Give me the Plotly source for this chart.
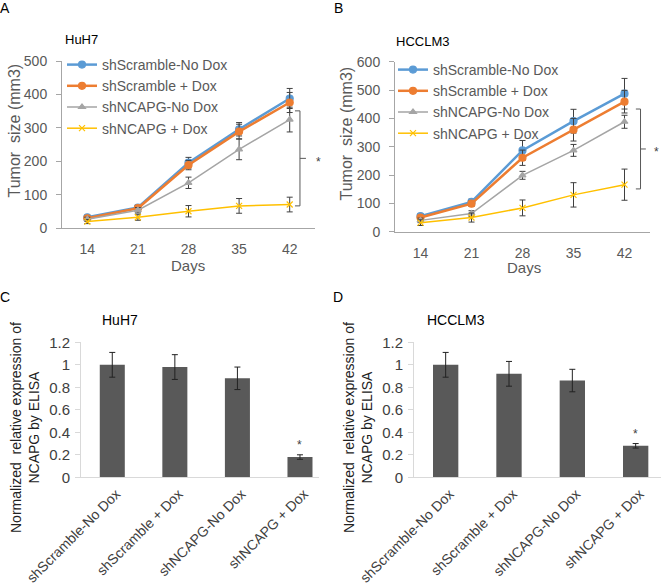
import plotly.graph_objects as go

# ---- data ----
days = [14, 21, 28, 35, 42]
series_names = ["shScramble-No Dox", "shScramble + Dox", "shNCAPG-No Dox", "shNCAPG + Dox"]

# A: HuH7 tumor size (mm3)
huh7_scr_nodox = [33, 62, 196, 296, 388]
huh7_scr_nodox_err = [6, 8, 16, 20, 30]
huh7_scr_dox = [30, 60, 189, 289, 376]
huh7_scr_dox_err = [6, 8, 14, 22, 30]
huh7_ncapg_nodox = [27, 54, 136, 236, 325]
huh7_ncapg_nodox_err = [6, 8, 17, 31, 37]
huh7_ncapg_dox = [20, 33, 51, 67, 71]
huh7_ncapg_dox_err = [6, 9, 17, 22, 22]

# B: HCCLM3 tumor size (mm3)
hcclm3_scr_nodox = [55, 105, 287, 390, 487]
hcclm3_scr_nodox_err = [8, 10, 35, 42, 54]
hcclm3_scr_dox = [50, 99, 261, 360, 459]
hcclm3_scr_dox_err = [8, 10, 27, 40, 40]
hcclm3_ncapg_nodox = [40, 64, 199, 287, 388]
hcclm3_ncapg_nodox_err = [8, 10, 14, 21, 23]
hcclm3_ncapg_dox = [32, 50, 84, 130, 166]
hcclm3_ncapg_dox_err = [10, 16, 28, 43, 55]

# C / D: normalized NCAPG expression by ELISA
groups = ["shScramble-No Dox", "shScramble + Dox", "shNCAPG-No Dox", "shNCAPG + Dox"]
elisa_huh7 = [1.0, 0.98, 0.88, 0.18]
elisa_huh7_err = [0.11, 0.11, 0.10, 0.02]
elisa_hcclm3 = [1.0, 0.92, 0.86, 0.28]
elisa_hcclm3_err = [0.11, 0.11, 0.10, 0.02]

FONT = "Liberation Sans, Arial, sans-serif"
W, H = 666, 588

line_styles = [
    dict(color="#5B9BD5", width=2.5, symbol="circle", size=7),
    dict(color="#ED7D31", width=2.5, symbol="circle", size=7),
    dict(color="#A5A5A5", width=1.5, symbol="triangle-up", size=6),
    dict(color="#FFC000", width=1.5, symbol="x-thin", size=6),
]


def px(x):
    return x / W


def py(y):
    return (H - y) / H


fig = go.Figure()

growth = [
    ("x", "y", "legend", [huh7_scr_nodox, huh7_scr_dox, huh7_ncapg_nodox, huh7_ncapg_dox],
     [huh7_scr_nodox_err, huh7_scr_dox_err, huh7_ncapg_nodox_err, huh7_ncapg_dox_err]),
    ("x2", "y2", "legend2", [hcclm3_scr_nodox, hcclm3_scr_dox, hcclm3_ncapg_nodox, hcclm3_ncapg_dox],
     [hcclm3_scr_nodox_err, hcclm3_scr_dox_err, hcclm3_ncapg_nodox_err, hcclm3_ncapg_dox_err]),
]
for xa, ya, leg, vals, errs in growth:
    for name, v, e, st in zip(series_names, vals, errs, line_styles):
        fig.add_trace(go.Scatter(
            x=days, y=v, name=name, xaxis=xa, yaxis=ya, legend=leg,
            mode="lines+markers",
            line=dict(color=st["color"], width=st["width"]),
            marker=dict(color=st["color"], symbol=st["symbol"], size=st["size"],
                        line=dict(color=st["color"], width=1.2)),
            error_y=dict(type="data", array=e, color="#404040", thickness=1, width=3),
            cliponaxis=False,
        ))

for xa, ya, vals, errs in [("x3", "y3", elisa_huh7, elisa_huh7_err),
                           ("x4", "y4", elisa_hcclm3, elisa_hcclm3_err)]:
    fig.add_trace(go.Bar(
        x=list(range(len(groups))), y=vals, xaxis=xa, yaxis=ya, showlegend=False,
        marker=dict(color="#595959", line=dict(width=0)), width=0.4,
        error_y=dict(type="data", array=errs, color="#222222", thickness=1, width=3),
    ))

tick_font = dict(family=FONT, size=14, color="#595959")

line_x = dict(range=[10.5, 45.5], tickvals=days, ticks="", showgrid=False, zeroline=False,
              showline=True, linecolor="#A6A6A6", linewidth=1, tickfont=tick_font,
              ticklabelstandoff=8, automargin=False)
line_y = dict(ticks="outside", ticklen=5, tickcolor="#A6A6A6", showgrid=False, zeroline=False,
              showline=True, linecolor="#A6A6A6", linewidth=1, tickfont=tick_font,
              ticklabelstandoff=6, automargin=False)
bar_x = dict(tickvals=list(range(len(groups))), ticktext=groups, tickangle=-45, ticks="",
             showgrid=False, zeroline=False, showline=True, linecolor="#D9D9D9",
             linewidth=1, tickfont=dict(family=FONT, size=14, color="#404040"),
             ticklabelstandoff=2, ticklabelshift=4, automargin=False)
bar_y = dict(range=[0, 1.2], dtick=0.2, ticks="outside", ticklen=5, tickcolor="#D9D9D9",
             showgrid=False, zeroline=False, showline=True, linecolor="#D9D9D9",
             linewidth=1, tickfont=dict(family=FONT, size=15, color="#404040"),
             ticklabelstandoff=2, automargin=False)

fig.update_layout(
    template="none",
    width=W, height=H, margin=dict(l=0, r=0, t=0, b=0, pad=0, autoexpand=False),
    paper_bgcolor="white", plot_bgcolor="white",
    font=dict(family=FONT, color="#595959"),
    xaxis=dict(domain=[px(62), px(315)], anchor="y", **line_x),
    yaxis=dict(domain=[py(228.3), py(61)], anchor="x", range=[0, 500], dtick=100, **line_y),
    xaxis2=dict(domain=[px(395), px(650)], anchor="y2", **line_x),
    yaxis2=dict(domain=[py(231.7), py(61.7)], anchor="x2", range=[0, 600], dtick=100, **line_y),
    xaxis3=dict(domain=[px(81), px(318.75)], anchor="y3", range=[-0.5, 3.3], **bar_x),
    yaxis3=dict(domain=[py(477.3), py(342.3)], anchor="x3", **bar_y),
    xaxis4=dict(domain=[px(414), px(661)], anchor="y4", range=[-0.5, 3.4], **bar_x),
    yaxis4=dict(domain=[py(477.3), py(342.3)], anchor="x4", **bar_y),
    legend=dict(x=px(62), y=py(49), xanchor="left", yanchor="top",
                bgcolor="rgba(0,0,0,0)", font=dict(family=FONT, size=14, color="#595959"),
                tracegroupgap=0, itemwidth=30),
    legend2=dict(x=px(393), y=py(54), xanchor="left", yanchor="top",
                 bgcolor="rgba(0,0,0,0)", font=dict(family=FONT, size=14, color="#595959"),
                 tracegroupgap=0, itemwidth=30),
    showlegend=True,
)

# significance brackets next to day 42
bracket = dict(color="#595959", width=1)
for xr, yr, xv, xl, xt, top, bot in [("x", "y", 43.42, 42.73, 44.25, 351, 67),
                                     ("x2", "y2", 44.2, 43.56, 44.93, 433, 151)]:
    mid = (top + bot) / 2
    for x0, y0, x1, y1 in [(xv, bot, xv, top), (xl, top, xv, top), (xl, bot, xv, bot),
                           (xv, mid, xt, mid)]:
        fig.add_shape(type="line", xref=xr, yref=yr, x0=x0, y0=y0, x1=x1, y1=y1, line=bracket)

annotations = [
    # panel letters
    dict(text="A", x=px(5), y=py(8), size=14, color="black"),
    dict(text="B", x=px(338), y=py(8), size=14, color="black"),
    dict(text="C", x=px(5), y=py(297), size=14, color="black"),
    dict(text="D", x=px(338), y=py(297), size=14, color="black"),
    # panel titles
    dict(text="HuH7", x=px(81), y=py(40), size=13, color="black"),
    dict(text="HCCLM3", x=px(423), y=py(41), size=13, color="black"),
    dict(text="HuH7", x=px(120), y=py(320), size=14, color="black"),
    dict(text="HCCLM3", x=px(456), y=py(320), size=14, color="black"),
    # axis titles
    dict(text="Days", x=px(188), y=py(265), size=15, color="#595959"),
    dict(text="Days", x=px(524), y=py(268), size=15, color="#595959"),
    dict(text="Tumor  size (mm3)", x=px(14.5), y=py(131), size=16, color="#595959", angle=-90),
    dict(text="Tumor  size (mm3)", x=px(345.5), y=py(134), size=16, color="#595959", angle=-90),
    dict(text="Normalized  relative expression of<br>NCAPG by ELISA", x=px(25), y=py(428),
         size=14, color="#222222", angle=-90),
    dict(text="Normalized  relative expression of<br>NCAPG by ELISA", x=px(358), y=py(428),
         size=14, color="#222222", angle=-90),
    # significance stars beside the brackets (outside the axis range, so paper-placed)
    dict(text="*", x=px(318), y=py(162), size=12, color="#404040"),
    dict(text="*", x=px(656), y=py(152), size=12, color="#404040"),
]
for a in annotations:
    fig.add_annotation(text=a["text"], x=a["x"], y=a["y"], xref="paper", yref="paper",
                       showarrow=False, xanchor="center", yanchor="middle",
                       textangle=a.get("angle", 0),
                       font=dict(family=FONT, size=a["size"], color=a["color"]))

# significance stars over the knockdown bars
for xr, yr, x, y in [("x3", "y3", 3, 0.32), ("x4", "y4", 3, 0.42)]:
    fig.add_annotation(text="*", x=x, y=y, xref=xr, yref=yr, showarrow=False,
                       yshift=-4, font=dict(family=FONT, size=12, color="#404040"))

# page has a default 8px body margin; drop it so the figure fills the window
fig.write_html("out.html", config={"displayModeBar": False},
               post_script="document.body.style.margin = '0';")
